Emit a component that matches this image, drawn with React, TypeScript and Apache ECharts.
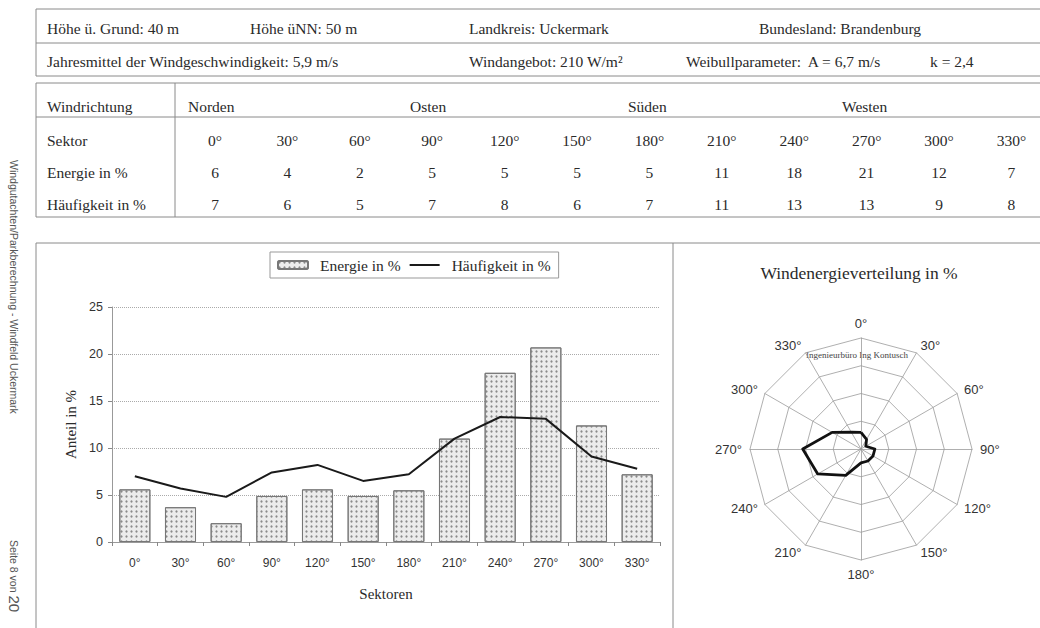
import React, { useEffect, useRef } from "react";
import * as echarts from "echarts";

// ---- data ----
const sectors = ["0°", "30°", "60°", "90°", "120°", "150°", "180°", "210°", "240°", "270°", "300°", "330°"];
const directions = ["Norden", "Osten", "Süden", "Westen"];
const energyTable = [6, 4, 2, 5, 5, 5, 5, 11, 18, 21, 12, 7];
const freqTable = [7, 6, 5, 7, 8, 6, 7, 11, 13, 13, 9, 8];
const energyBars = [5.6, 3.7, 2.0, 4.9, 5.6, 4.9, 5.5, 11.0, 18.0, 20.7, 12.4, 7.2];
const freqLine = [7.0, 5.7, 4.8, 7.4, 8.2, 6.5, 7.2, 11.0, 13.3, 13.1, 9.1, 7.8];
const headerRow1 = ["Höhe ü. Grund: 40 m", "Höhe üNN: 50 m", "Landkreis: Uckermark", "Bundesland: Brandenburg"];
const headerRow2 = ["Jahresmittel der Windgeschwindigkeit: 5,9 m/s", "Windangebot: 210 W/m²", "Weibullparameter:  A = 6,7 m/s", "k = 2,4"];
const rowLabels = ["Windrichtung", "Sektor", "Energie in %", "Häufigkeit in %"];
const radarMax = 40;

const SERIF = "'Liberation Serif', 'Times New Roman', serif";
const SANS = "'Liberation Sans', Arial, sans-serif";
const TXT = "#2a2a2a";
const LINE = "#8a8a8a";

function txt(text: string, x: number, y: number, opts: any = {}) {
  return {
    type: "text",
    x,
    y,
    silent: true,
    style: {
      text,
      fill: TXT,
      fontFamily: SERIF,
      fontSize: 15.5,
      align: "left",
      verticalAlign: "middle",
      ...opts,
    },
  };
}

function hline(x1: number, x2: number, y: number) {
  return { type: "line", silent: true, shape: { x1, y1: y, x2, y2: y }, style: { stroke: LINE, lineWidth: 1 } };
}
function vline(x: number, y1: number, y2: number) {
  return { type: "line", silent: true, shape: { x1: x, y1, x2: x, y2 }, style: { stroke: LINE, lineWidth: 1 } };
}

export default function App() {
  const ref = useRef<HTMLDivElement>(null);
  useEffect(() => {
    if (!ref.current) return;
    const chart = echarts.init(ref.current, undefined, { renderer: "svg" });

    const graphics: any[] = [];
    // table lines
    graphics.push(hline(36, 1040, 9));
    graphics.push(hline(36, 1040, 43));
    graphics.push(hline(36, 1040, 76));
    graphics.push(hline(36, 1040, 83));
    graphics.push(hline(36, 1040, 117));
    graphics.push(hline(36, 1040, 217));
    graphics.push(vline(36, 9, 76));
    graphics.push(vline(36, 83, 217));
    graphics.push(vline(175, 83, 217));
    // panel lines
    graphics.push(hline(36, 1040, 243));
    graphics.push(vline(36, 243, 628));
    graphics.push(vline(673, 243, 628));

    const h1x = [47, 250, 469, 759];
    headerRow1.forEach((t, i) => graphics.push(txt(t, h1x[i], 28)));
    const h2x = [47, 469, 686, 930];
    headerRow2.forEach((t, i) => graphics.push(txt(t, h2x[i], 61)));

    const rowY = [106, 140, 172, 204];
    rowLabels.forEach((t, i) => graphics.push(txt(t, 47, rowY[i])));
    const dirX = [188, 410, 628, 842];
    directions.forEach((t, i) => graphics.push(txt(t, dirX[i], rowY[0])));
    const colX = (i: number) => 215 + i * 72.4;
    sectors.forEach((t, i) => graphics.push(txt(t, colX(i), rowY[1], { align: "center" })));
    energyTable.forEach((v, i) => graphics.push(txt(String(v), colX(i), rowY[2], { align: "center" })));
    freqTable.forEach((v, i) => graphics.push(txt(String(v), colX(i), rowY[3], { align: "center" })));

    // radar title
    graphics.push(txt("Windenergieverteilung in %", 859, 273, { align: "center", fontSize: 17.5 }));
    graphics.push(txt("Ingenieurbüro Ing Kontusch", 857, 355, { align: "center", fontSize: 9, fill: "#444" }));

    // margin text
    graphics.push({
      type: "text",
      x: 14,
      y: 160,
      rotation: -Math.PI / 2,
      silent: true,
      style: {
        text: "Windgutachten/Parkberechnung - Windfeld Uckermark",
        fill: "#555",
        fontFamily: SANS,
        fontSize: 10.5,
        align: "left",
        verticalAlign: "middle",
      },
    });
    graphics.push({
      type: "text",
      x: 14,
      y: 540,
      rotation: -Math.PI / 2,
      silent: true,
      style: {
        text: "{a|Seite 8 von }{b|20}",
        fill: "#555",
        fontFamily: SANS,
        align: "left",
        verticalAlign: "middle",
        rich: {
          a: { fontSize: 10.5, fontFamily: SANS, fill: "#555" },
          b: { fontSize: 15, fontFamily: SANS, fill: "#555" },
        },
      },
    });

    // radar clockwise ordering: 0°, then going clockwise
    const order = sectors.map((_, i) => (i === 0 ? 0 : sectors.length - i));
    const indicator = order.map((i) => ({ name: sectors[i], max: radarMax }));
    const radarValues = order.map((i) => energyTable[i]);

    const option: any = {
      animation: false,
      backgroundColor: "#ffffff",
      legend: {
        left: 270,
        top: 252,
        data: [
          { name: "Energie in %" },
          { name: "Häufigkeit in %", itemStyle: { opacity: 0 } },
        ],
        borderColor: "#999",
        borderWidth: 1,
        padding: [5, 8, 5, 7],
        itemWidth: 30,
        itemHeight: 8,
        itemGap: 8,
        textStyle: { fontFamily: SERIF, fontSize: 15.5, color: TXT, padding: [0, 6, 0, 7] },
      },
      grid: { left: 112, right: 380, top: 307, bottom: 86 },
      xAxis: {
        type: "category",
        data: sectors,
        name: "Sektoren",
        nameLocation: "middle",
        nameGap: 44,
        nameTextStyle: { fontFamily: SERIF, fontSize: 15, color: TXT },
        axisLine: { lineStyle: { color: "#999" } },
        axisTick: { show: true, length: 4, lineStyle: { color: "#888" } },
        axisLabel: { fontFamily: SANS, fontSize: 12, color: "#333", margin: 15 },
      },
      yAxis: {
        type: "value",
        min: 0,
        max: 25,
        interval: 5,
        name: "Anteil in %",
        nameLocation: "middle",
        nameGap: 32,
        nameTextStyle: { fontFamily: SERIF, fontSize: 15, color: TXT },
        axisLine: { show: true, lineStyle: { color: "#999" } },
        axisTick: { show: true, length: 4, lineStyle: { color: "#888" } },
        axisLabel: { fontFamily: SANS, fontSize: 12.5, color: "#333", margin: 9 },
        splitLine: { lineStyle: { color: "#aaa", type: "dotted" } },
      },
      radar: {
        center: [861, 449],
        radius: 111,
        startAngle: 90,
        splitNumber: 4,
        shape: "polygon",
        indicator,
        axisName: { color: "#333", fontFamily: SANS, fontSize: 13 },
        axisNameGap: 8,
        splitLine: { lineStyle: { color: "#9a9a9a", width: 0.8 } },
        axisLine: { lineStyle: { color: "#9a9a9a", width: 0.8 } },
        splitArea: { show: false },
      },
      series: [
        {
          name: "Energie in %",
          type: "bar",
          data: energyBars,
          barCategoryGap: "32%",
          itemStyle: {
            color: "#ececec",
            borderColor: "#777",
            borderWidth: 1,
            decal: {
              symbol: "circle",
              symbolSize: 0.75,
              color: "#8a8a8a",
              dashArrayX: [3, 1.5],
              dashArrayY: [3, 1.5],
            },
          },
        },
        {
          name: "Häufigkeit in %",
          type: "line",
          data: freqLine,
          symbol: "none",
          lineStyle: { color: "#1a1a1a", width: 2 },
          itemStyle: { color: "#1a1a1a" },
        },
        {
          name: "Windenergieverteilung in %",
          type: "radar",
          symbol: "none",
          data: [{ value: radarValues }],
          lineStyle: { color: "#111", width: 2.8 },
          itemStyle: { color: "#111" },
        },
      ],
      graphic: graphics,
    };
    chart.setOption(option);
    return () => chart.dispose();
  }, []);
  return (
    <div
      ref={ref}
      style={{ position: "absolute", left: 0, top: 0, width: 1040, height: 628, background: "#fff" }}
    />
  );
}
